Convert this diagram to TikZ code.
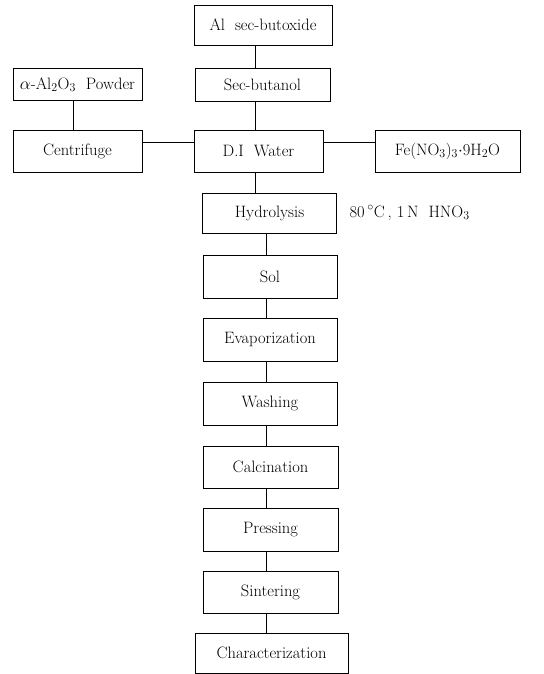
\documentclass[tikz,border=0pt]{standalone}
\usetikzlibrary{positioning}

\begin{document}
\begin{tikzpicture}[x=1pt,y=-1pt,
    every node/.style={font=\fontsize{16.5}{18}\selectfont},
    box/.style={draw, line width=0.9pt, rectangle, inner sep=0pt,
        minimum width=134pt, minimum height=43pt},
    link/.style={line width=0.9pt}
]
\useasboundingbox (0,0) rectangle (543,674);

% Raw materials
\node[box, minimum width=138pt, minimum height=40pt] (al)  at (263,25)    {Al\ \ sec-butoxide};
\node[box, minimum width=135pt, minimum height=33pt] (sec) at (262.5,84.5) {Sec-butanol};
\node[box, minimum width=129pt, minimum height=32pt] (alpha) at (77.5,84.5) {$\alpha$-Al$_2$O$_3$\ \ Powder};

% Mixing row
\node[box, minimum width=129pt, minimum height=42pt] (cen)   at (77.5,151)  {Centrifuge};
\node[box, minimum width=129pt, minimum height=42pt] (water) at (258.5,151) {D.I\ \ Water};
\node[box, minimum width=145pt, minimum height=42pt] (fe)    at (447.5,151) {Fe(NO$_3$)$_3$$\cdot$9H$_2$O};

% Process chain
\node[box, minimum height=40pt] (hyd)   at (269.5,213) {Hydrolysis};
\node[box] (sol)   at (270,276.5) {Sol};
\node[box] (evap)  at (270,339.5) {Evaporization};
\node[box] (wash)  at (270,403.5) {Washing};
\node[box, minimum width=135pt, minimum height=42pt] (calc)  at (270.5,467) {Calcination};
\node[box, minimum width=135pt] (press) at (270.5,529.5) {Pressing};
\node[box, minimum width=135pt, minimum height=42pt] (sint)  at (270.5,592) {Sintering};
\node[box, minimum width=153pt, minimum height=40pt] (char)  at (271.5,653) {Characterization};

% Condition
\node[anchor=west] (cond) at (346,213) {80\,$^{\circ}$C\,,\ 1\,N\ \ HNO$_3$};

% Spines
\coordinate (top) at (255,0);
\coordinate (mid) at (266,0);
\coordinate (side) at (73,0);

% Connectors
\draw[link] (al.south -| top) -- (sec.north -| top);
\draw[link] (sec.south -| top) -- (water.north -| top);
\draw[link] (water.south -| top) -- (hyd.north -| top);
\draw[link] (alpha.south -| side) -- (cen.north -| side);
\draw[link] ([yshift=9pt]cen.east) -- ([yshift=9pt]water.west);
\draw[link] ([yshift=9pt]water.east) -- ([yshift=9pt]fe.west);
\draw[link] (hyd.south -| mid) -- (sol.north -| mid);
\draw[link] (sol.south -| mid) -- (evap.north -| mid);
\draw[link] (evap.south -| mid) -- (wash.north -| mid);
\draw[link] (wash.south -| mid) -- (calc.north -| mid);
\draw[link] (calc.south -| mid) -- (press.north -| mid);
\draw[link] (press.south -| mid) -- (sint.north -| mid);
\draw[link] (sint.south -| mid) -- (char.north -| mid);

\end{tikzpicture}
\end{document}
